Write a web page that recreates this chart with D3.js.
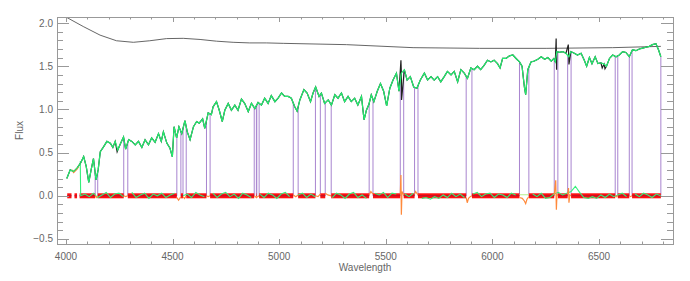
<!DOCTYPE html>
<html>
<head>
<meta charset="utf-8">
<script src="https://cdn.jsdelivr.net/npm/d3@7"></script>
<style>
  body { margin: 0; background: #fff; }
  text { font-family: "Liberation Sans", Arial, sans-serif; fill: #666; }
</style>
</head>
<body>
<svg id="chart" width="690" height="281"></svg>
<script>
// model fit (green), [wavelength, flux]
const modelSpec = [
  [4004,0.20],[4020,0.30],[4036,0.28],[4052,0.32],[4070,0.385],[4083,0.455],[4095,0.34],[4107,0.155],
  [4118,0.30],[4129,0.43],[4141,0.185],[4151,0.30],[4161,0.51],[4177,0.57],[4192,0.63],[4208,0.61],
  [4220,0.56],[4231,0.63],[4243,0.53],[4257,0.61],[4270,0.68],[4280,0.54],[4294,0.65],[4309,0.63],
  [4325,0.59],[4340,0.63],[4356,0.56],[4371,0.65],[4387,0.59],[4402,0.67],[4418,0.62],[4434,0.72],
  [4447,0.63],[4457,0.74],[4473,0.61],[4488,0.55],[4499,0.45],[4507,0.80],[4519,0.67],[4530,0.80],
  [4543,0.72],[4558,0.87],[4569,0.74],[4582,0.65],[4598,0.80],[4613,0.86],[4625,0.84],[4641,0.89],
  [4651,0.78],[4667,0.96],[4682,0.94],[4690,1.03],[4706,1.09],[4719,0.99],[4733,0.86],[4745,0.99],
  [4761,1.07],[4776,0.99],[4792,1.05],[4807,0.99],[4823,1.12],[4838,1.07],[4855,0.975],[4870,1.07],
  [4886,1.01],[4901,1.08],[4917,1.05],[4932,1.13],[4948,1.07],[4963,1.16],[4980,1.09],[4995,1.13],
  [5011,1.19],[5026,1.15],[5042,1.15],[5057,1.13],[5073,1.03],[5084,0.98],[5097,1.11],[5116,1.23],
  [5131,1.19],[5147,1.09],[5159,1.19],[5171,1.26],[5187,1.15],[5198,1.19],[5213,1.07],[5230,1.11],
  [5245,1.05],[5261,1.17],[5276,1.13],[5292,1.19],[5307,1.09],[5323,1.15],[5338,1.09],[5354,1.13],
  [5369,1.05],[5386,1.15],[5398,0.88],[5409,0.99],[5421,1.06],[5432,1.17],[5444,1.09],[5460,1.21],
  [5475,1.30],[5490,1.21],[5504,1.04],[5519,1.245],[5534,1.34],[5550,1.42],[5562,1.21],[5573,1.42],
  [5587,1.46],[5600,1.34],[5615,1.38],[5631,1.26],[5646,1.245],[5662,1.34],[5681,1.42],[5696,1.34],
  [5712,1.38],[5727,1.34],[5743,1.38],[5758,1.32],[5774,1.38],[5789,1.44],[5806,1.40],[5821,1.44],
  [5837,1.32],[5852,1.46],[5868,1.42],[5883,1.36],[5899,1.48],[5914,1.46],[5930,1.50],[5945,1.46],
  [5961,1.51],[5977,1.57],[5993,1.55],[6008,1.57],[6024,1.53],[6036,1.48],[6048,1.59],[6064,1.59],
  [6080,1.62],[6096,1.63],[6111,1.59],[6127,1.55],[6139,1.50],[6150,1.26],[6156,1.17],[6166,1.46],
  [6181,1.55],[6197,1.56],[6213,1.58],[6229,1.61],[6245,1.58],[6260,1.60],[6276,1.56],[6288,1.59],
  [6295,1.55],[6302,1.67],[6314,1.66],[6330,1.67],[6345,1.65],[6358,1.61],[6368,1.67],[6384,1.65],
  [6399,1.63],[6416,1.65],[6431,1.57],[6442,1.50],[6455,1.60],[6467,1.53],[6482,1.61],[6495,1.53],
  [6509,1.54],[6524,1.525],[6535,1.50],[6549,1.59],[6564,1.63],[6580,1.61],[6595,1.63],[6611,1.67],
  [6626,1.66],[6642,1.61],[6657,1.69],[6673,1.68],[6689,1.70],[6705,1.71],[6720,1.72],[6736,1.73],
  [6751,1.75],[6767,1.76],[6779,1.69],[6790,1.61]
];

// observed points that stick out of the fit (black)
const obsSpikes = [
  [4213,0.59],[4240,0.51],[5571,1.57],[5574,1.11],[6299,1.82],[6301,1.46],
  [6356,1.75],[6359,1.52],[6515,1.48],[6528,1.47]
];

// smooth continuum curve (grey)
const contSpec = [
  [4000,2.07],[4081,1.96],[4160,1.86],[4237,1.795],[4316,1.777],[4393,1.795],[4472,1.82],
  [4550,1.823],[4629,1.81],[4706,1.79],[4784,1.777],[4862,1.77],[4940,1.77],[5019,1.765],
  [5315,1.75],[5628,1.715],[5940,1.707],[6252,1.707],[6564,1.715],[6790,1.73]
];

// masked wavelength windows (purple edges)
const masks = [
  [4137,4149],[4271,4290],[4520,4539],[4549,4564],[4659,4676],[4883,4893],[4895,4906],
  [5066,5089],[5170,5193],[5216,5244],[5422,5440],[5568,5584],[5635,5651],[5877,5904],
  [6127,6171],[6290,6307],[6353,6369],[6576,6588],[6642,6655]
];
const specEnd = 6790;
const errStart = 4006;
const errGaps = [[4026,4040],[4052,4064]];
const errHalf = 0.029;

// residuals outside masks (green), on a 20 A grid from 4069
const residJump = [4067, 0.40];
const residStart = 4069, residStep = 20;
const residVals = [
  0.00,0.02,-0.01,0.03,-0.02,0.01,0.04,-0.02,0.02,0.03,
  -0.01,0.02,0.04,-0.02,0.01,0.03,-0.03,0.02,0.00,0.03,
  -0.02,0.01,0.03,0.00,0.00,0.02,-0.02,0.04,0.01,-0.01,
  0.00,0.03,-0.02,0.02,0.04,-0.01,0.02,-0.03,0.03,0.01,
  -0.02,0.00,0.02,-0.02,0.03,0.01,-0.03,0.02,0.04,-0.01,
  0.00,0.01,0.03,-0.02,0.02,-0.01,0.00,0.02,0.00,-0.02,
  0.03,0.01,-0.03,0.02,0.04,-0.02,0.01,-0.03,0.00,0.03,
  0.01,0.04,-0.02,0.03,0.02,0.00,0.02,-0.01,0.03,0.00,
  -0.03,-0.02,-0.04,-0.01,-0.03,0.01,-0.02,0.03,-0.01,0.02,
  -0.02,0.00,0.02,0.04,-0.01,0.02,0.03,-0.02,0.02,0.01,
  -0.02,0.03,0.01,0.00,0.00,0.00,0.02,-0.01,0.03,-0.03,
  -0.02,0.02,0.04,0.01,0.03,0.05,0.11,0.04,-0.02,-0.03,
  -0.01,-0.03,0.01,-0.02,0.02,-0.01,0.01,0.03,-0.01,0.00,
  0.02,-0.01,0.03,0.01,-0.02,0.02,0.00
];

// residuals inside masks (orange)
const maskResid = [
  [[4137,0],[4143,-0.02],[4149,0]],
  [[4271,0],[4280,-0.01],[4290,0]],
  [[4520,-0.02],[4528,-0.05],[4534,-0.03],[4539,-0.01]],
  [[4549,-0.01],[4556,-0.03],[4564,0]],
  [[4659,0],[4667,-0.01],[4676,0]],
  [[4883,0],[4893,-0.02],[4906,0]],
  [[5066,0.01],[5078,-0.01],[5089,0.01]],
  [[5170,0],[5182,-0.01],[5193,0.02]],
  [[5216,0.03],[5228,0.01],[5244,0]],
  [[5422,0.01],[5430,0.05],[5440,0.02]],
  [[5568,0.02],[5571,0.24],[5573,-0.22],[5576,0.05],[5584,0.01]],
  [[5635,0.02],[5640,0.05],[5645,0.03],[5651,0.01]],
  [[5877,-0.02],[5882,-0.08],[5888,-0.03],[5896,-0.01],[5904,0]],
  [[6127,-0.02],[6140,-0.03],[6150,-0.06],[6156,-0.09],[6162,-0.04],[6171,-0.01]],
  [[6290,0.01],[6297,0.18],[6300,-0.16],[6303,0.02],[6307,0]],
  [[6353,0.02],[6357,0.09],[6359,-0.08],[6363,0.01],[6369,0]],
  [[6576,0],[6582,-0.01],[6588,0]],
  [[6642,0],[6648,-0.01],[6655,0]]
];
const maskFlat = 0.012;
// the short orange stretch riding on the spectrum at the blue end
const orangeStart = [[4028,0.30],[4036,0.27],[4044,0.29],[4052,0.31],[4060,0.34]];

// axes
const xTicks = [4000,4500,5000,5500,6000,6500];
const yTicks = [-0.5,0,0.5,1,1.5,2];
const yTickLabels = ["\u22120.5","0.0","0.5","1.0","1.5","2.0"];
const xDomain = [3958, 6847];
const yDomain = [-0.558, 2.07];

const W = 690, H = 281;
const plot = { left: 57, right: 673, top: 17, bottom: 244 };

const svg = d3.select('#chart');
const x = d3.scaleLinear().domain(xDomain).range([plot.left, plot.right]);
const y = d3.scaleLinear().domain(yDomain).range([plot.bottom, plot.top]);

const line = d3.line().x(d => x(d[0])).y(d => y(d[1]));

svg.append('clipPath').attr('id', 'clip')
  .append('rect')
  .attr('x', plot.left).attr('y', plot.top)
  .attr('width', plot.right - plot.left).attr('height', plot.bottom - plot.top);

const g = svg.append('g').attr('clip-path', 'url(#clip)');

function modelAt(w) {
  const i = d3.bisector(d => d[0]).left(modelSpec, w);
  if (i <= 0) return modelSpec[0][1];
  if (i >= modelSpec.length) return modelSpec[modelSpec.length - 1][1];
  const a = modelSpec[i - 1], b = modelSpec[i];
  return a[1] + (b[1] - a[1]) * (w - a[0]) / (b[0] - a[0]);
}
function inMask(w) {
  return masks.some(m => w > m[0] && w < m[1]);
}

// continuum
g.append('path').datum(contSpec)
  .attr('d', line)
  .attr('fill', 'none').attr('stroke', '#555').attr('stroke-width', 0.9);

// mask edges
const edges = [];
masks.forEach(m => { edges.push(m[0]); edges.push(m[1]); });
edges.push(specEnd);
g.selectAll('.edge').data(edges).enter().append('line')
  .attr('x1', d => x(d)).attr('x2', d => x(d))
  .attr('y1', y(0)).attr('y2', d => y(modelAt(d)))
  .attr('stroke', '#a884cf').attr('stroke-width', 1);

// error band at zero, broken at the masks
const cuts = masks.concat(errGaps).sort((a, b) => a[0] - b[0]);
const good = [];
let from = errStart;
cuts.forEach(c => { if (c[0] > from) good.push([from, c[0]]); from = Math.max(from, c[1]); });
good.push([from, specEnd]);
g.selectAll('.err').data(good).enter().append('rect')
  .attr('x', d => x(d[0])).attr('width', d => x(d[1]) - x(d[0]))
  .attr('y', y(errHalf)).attr('height', y(-errHalf) - y(errHalf))
  .attr('fill', '#ff1010');
g.selectAll('.errmid').data(good).enter().append('line')
  .attr('x1', d => x(d[0])).attr('x2', d => x(d[1]))
  .attr('y1', y(0)).attr('y2', y(0))
  .attr('stroke', '#b3122e').attr('stroke-width', 1);

// flat line across the wide mask
g.selectAll('.flat').data(masks.filter(m => m[1] - m[0] > 30)).enter().append('line')
  .attr('x1', d => x(d[0])).attr('x2', d => x(d[1]))
  .attr('y1', y(maskFlat)).attr('y2', y(maskFlat))
  .attr('stroke', '#b6f08a').attr('stroke-width', 1);

// residuals
const residPts = [residJump].concat(residVals.map((v, i) => [residStart + i * residStep, v]));
g.append('path').datum(residPts)
  .attr('d', d3.line().defined(d => !inMask(d[0])).x(d => x(d[0])).y(d => y(d[1])))
  .attr('fill', 'none').attr('stroke', '#33f07a').attr('stroke-width', 1.1);

g.selectAll('.mres').data(maskResid).enter().append('path')
  .attr('d', line)
  .attr('fill', 'none').attr('stroke', '#ff8a3c').attr('stroke-width', 1.2);

// observed spectrum under the fit
const obsSpec = modelSpec.concat(obsSpikes).sort((a, b) => a[0] - b[0]);
g.append('path').datum(obsSpec)
  .attr('d', line)
  .attr('fill', 'none').attr('stroke', '#222').attr('stroke-width', 1.2);

g.append('path').datum(orangeStart)
  .attr('d', line)
  .attr('fill', 'none').attr('stroke', '#ff7a30').attr('stroke-width', 1.2);

// model fit
g.append('path').datum(modelSpec)
  .attr('d', line)
  .attr('fill', 'none').attr('stroke', '#22ee6e').attr('stroke-width', 1.2);

// frame and ticks
const axisCol = '#999';
svg.append('rect')
  .attr('x', plot.left + 0.5).attr('y', plot.top + 0.5)
  .attr('width', plot.right - plot.left).attr('height', plot.bottom - plot.top)
  .attr('fill', 'none').attr('stroke', axisCol).attr('stroke-width', 1);

const xMinor = d3.range(4000, 6801, 100);
const yMinor = d3.range(-5, 21).map(v => v / 10);
const xLenMaj = 5, xLenMin = 2.5, yLenMaj = 12, yLenMin = 6;

function tickPath(sel, data, cls, fn) {
  sel.selectAll('.' + cls).data(data).enter().append('line')
    .attr('class', cls)
    .each(function(d) {
      const p = fn(d);
      d3.select(this).attr('x1', p[0]).attr('y1', p[1]).attr('x2', p[2]).attr('y2', p[3]);
    })
    .attr('stroke', axisCol).attr('stroke-width', 1);
}
const ax = svg.append('g');
tickPath(ax, xMinor, 'xb', d => {
  const L = d % 500 === 0 ? xLenMaj : xLenMin, px = Math.round(x(d)) + 0.5;
  return [px, plot.bottom, px, plot.bottom - L];
});
tickPath(ax, xMinor, 'xt', d => {
  const L = d % 500 === 0 ? xLenMaj : xLenMin, px = Math.round(x(d)) + 0.5;
  return [px, plot.top, px, plot.top + L];
});
tickPath(ax, yMinor, 'yl', d => {
  const L = Math.abs(d * 10) % 5 === 0 ? yLenMaj : yLenMin, py = Math.round(y(d)) + 0.5;
  return [plot.left, py, plot.left + L, py];
});
tickPath(ax, yMinor, 'yr', d => {
  const L = Math.abs(d * 10) % 5 === 0 ? yLenMaj : yLenMin, py = Math.round(y(d)) + 0.5;
  return [plot.right, py, plot.right - L, py];
});

ax.selectAll('.xl').data(xTicks).enter().append('text')
  .attr('x', d => x(d)).attr('y', plot.bottom + 16)
  .attr('text-anchor', 'middle').style('font-size', '10px')
  .text(d => d);
ax.selectAll('.ylab').data(yTicks).enter().append('text')
  .attr('x', plot.left - 4).attr('y', d => y(d) + 3.5)
  .attr('text-anchor', 'end').style('font-size', '10px')
  .text((d, i) => yTickLabels[i]);

svg.append('text')
  .attr('x', (plot.left + plot.right) / 2).attr('y', 271)
  .attr('text-anchor', 'middle').style('font-size', '10px')
  .text('Wavelength');
svg.append('text')
  .attr('transform', 'translate(23,' + ((plot.top + plot.bottom) / 2) + ') rotate(-90)')
  .attr('text-anchor', 'middle').style('font-size', '10px')
  .text('Flux');
</script>
</body>
</html>
